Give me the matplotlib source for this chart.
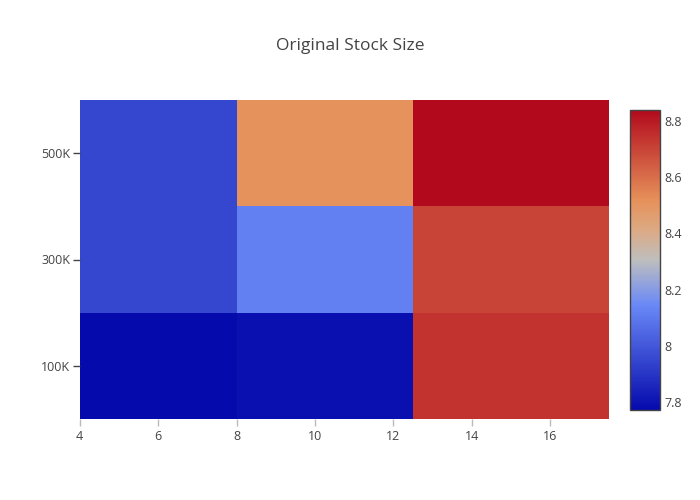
import matplotlib.pyplot as plt
import numpy as np
from matplotlib.colors import LinearSegmentedColormap
from matplotlib.ticker import FuncFormatter

# Data
stock_x = [6, 10, 15]
stock_size = [100000, 300000, 500000]
z = [
    [7.772, 7.79, 8.74],   # 100K
    [7.95, 8.12, 8.70],    # 300K
    [7.95, 8.51, 8.839],   # 500K
]
zmin, zmax = 7.772, 8.839

# plotly's old RdBu scale
stops = [(0, (5, 10, 172)), (0.35, (106, 137, 247)), (0.5, (190, 190, 190)),
         (0.6, (220, 170, 132)), (0.7, (230, 145, 90)), (1, (178, 10, 28))]
cmap = LinearSegmentedColormap.from_list(
    'rdbu_old', [(p, tuple(c / 255 for c in rgb)) for p, rgb in stops])


def edges(c):
    c = np.asarray(c, dtype=float)
    mid = (c[:-1] + c[1:]) / 2
    return np.concatenate([[c[0] - (mid[0] - c[0])], mid, [c[-1] + (c[-1] - mid[-1])]])


plt.rcParams['font.family'] = ['Open Sans', 'DejaVu Sans']
fig = plt.figure(figsize=(7, 5), dpi=100)
ax = fig.add_axes([0.114, 0.162, 0.756, 0.638])
mesh = ax.pcolormesh(edges(stock_x), edges(stock_size), np.array(z),
                     cmap=cmap, vmin=zmin, vmax=zmax)

xe, ye = edges(stock_x), edges(stock_size)
ax.set_xlim(xe[0], xe[-1])
ax.set_ylim(ye[0], ye[-1])
ax.set_xticks([4, 6, 8, 10, 12, 14, 16])
ax.set_yticks(stock_size)
ax.yaxis.set_major_formatter(FuncFormatter(lambda v, p: f'{int(v / 1000)}K'))
for s in ax.spines.values():
    s.set_visible(False)
ax.tick_params(axis='y', length=5, width=1, color='#444444', labelcolor='#444444',
               labelsize=9, pad=2)
ax.tick_params(axis='x', length=5, width=1, color='#bbbbbb', labelcolor='#444444',
               labelsize=9, pad=3)

fig.suptitle('Original Stock Size', x=0.5, y=0.925, fontsize=12.5, color='#444444')

cax = fig.add_axes([0.9, 0.18, 0.043, 0.6])
cb = fig.colorbar(mesh, cax=cax)
cb.set_ticks([7.8, 8, 8.2, 8.4, 8.6, 8.8])
cb.ax.yaxis.set_major_formatter(FuncFormatter(lambda v, p: f'{v:g}'))
cb.ax.tick_params(length=0, labelsize=9, labelcolor='#444444', pad=3)
cb.outline.set_edgecolor('#444444')
cb.outline.set_linewidth(1)

fig.savefig('out.png', dpi=100)
